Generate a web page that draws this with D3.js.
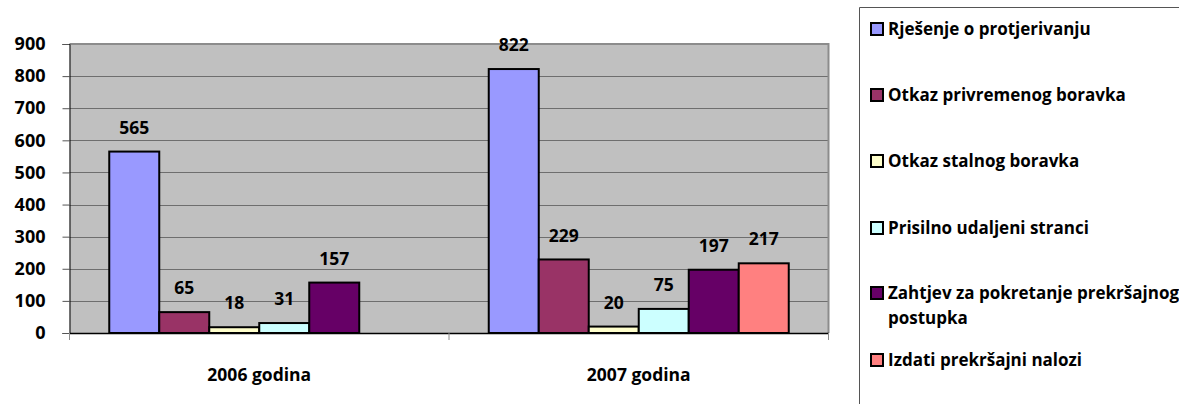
<!DOCTYPE html>
<html>
<head>
<meta charset="utf-8">
<script src="https://cdn.jsdelivr.net/npm/d3@7"></script>
<style>
  html, body { margin: 0; padding: 0; background: #fff; }
  svg { display: block; }
  text { font-family: "Open Sans", Lato, sans-serif; font-weight: bold; fill: #000; }
</style>
</head>
<body>
<svg id="chart" width="1179" height="404"></svg>
<script>
// Data
const categories = ["2006 godina", "2007 godina"];
const seriesNames = [
  "Rješenje o protjerivanju",
  "Otkaz privremenog boravka",
  "Otkaz stalnog boravka",
  "Prisilno udaljeni stranci",
  "Zahtjev za pokretanje prekršajnog postupka",
  "Izdati prekršajni nalozi"
];
const values2006 = [565, 65, 18, 31, 157, null];
const values2007 = [822, 229, 20, 75, 197, 217];
const seriesColors = ["#9999FF", "#993366", "#FFFFCC", "#CCFFFF", "#660066", "#FF8080"];
const yTicks = [0, 100, 200, 300, 400, 500, 600, 700, 800, 900];

const valuesByCategory = [values2006, values2007];

const svg = d3.select("#chart");
const plot = { left: 69.5, right: 828.5, top: 44, bottom: 333 };
const FONT = "'Open Sans', Lato, sans-serif";

const x0 = d3.scaleBand().domain(categories).range([plot.left, plot.right]).paddingInner(0).paddingOuter(0);
const x1 = d3.scaleBand().domain(d3.range(seriesNames.length))
  .range([0, x0.bandwidth()]).paddingOuter(0.795).paddingInner(0);
const y = d3.scaleLinear().domain([0, 900]).range([plot.bottom, plot.top]);

// Plot background
svg.append("rect")
  .attr("x", plot.left).attr("y", plot.top)
  .attr("width", plot.right - plot.left).attr("height", plot.bottom - plot.top)
  .attr("fill", "#C0C0C0");

// Gridlines
svg.append("g").selectAll("line").data(yTicks.filter(t => t > 0 && t < 900)).join("line")
  .attr("x1", plot.left).attr("x2", plot.right)
  .attr("y1", d => Math.round(y(d)) + 0.5).attr("y2", d => Math.round(y(d)) + 0.5)
  .attr("stroke", "#6e6e6e").attr("stroke-width", 1);

// Plot border (top and right)
svg.append("path")
  .attr("d", `M${plot.left},${plot.top} H${plot.right} V${plot.bottom}`)
  .attr("fill", "none").attr("stroke", "#8c8c8c").attr("stroke-width", 2);

// Bars
const groups = svg.append("g").selectAll("g").data(categories).join("g")
  .attr("transform", d => `translate(${x0(d)},0)`);

groups.each(function(cat, ci) {
  const g = d3.select(this);
  const vals = valuesByCategory[ci].map((v, i) => ({ v, i })).filter(d => d.v !== null);
  g.selectAll("rect").data(vals).join("rect")
    .attr("x", d => x1(d.i))
    .attr("y", d => y(d.v))
    .attr("width", x1.bandwidth())
    .attr("height", d => y(0) - y(d.v))
    .attr("fill", d => seriesColors[d.i])
    .attr("stroke", "#000").attr("stroke-width", 2);
  g.selectAll("text.val").data(vals).join("text")
    .attr("class", "val")
    .attr("x", d => x1(d.i) + x1.bandwidth() / 2)
    .attr("y", d => y(d.v) - 24)
    .attr("dy", "0.35em")
    .attr("text-anchor", "middle")
    .attr("font-size", 17.5)
    .text(d => d.v);
});

// Y axis
const yAxis = d3.axisLeft(y).tickValues(yTicks).tickSize(7).tickPadding(17);
const yg = svg.append("g").attr("transform", `translate(${plot.left},0)`).call(yAxis);
yg.select(".domain").attr("stroke", "#000");
yg.selectAll(".tick line").attr("stroke", "#555");
yg.selectAll(".tick text").attr("font-size", 18).attr("font-family", FONT).attr("font-weight", "bold").attr("fill", "#000");

// X axis
const xAxis = d3.axisBottom(x0).tickSize(0).tickPadding(0);
const xg = svg.append("g").attr("transform", `translate(0,${plot.bottom})`).call(xAxis);
xg.select(".domain").attr("stroke", "#000").attr("stroke-width", 1.5);
xg.selectAll(".tick text").attr("font-size", 17.5).attr("font-family", FONT)
  .attr("font-weight", "bold").attr("fill", "#000").attr("y", 42).attr("dy", "0.35em");
// Category divider ticks
svg.append("g").selectAll("line").data([plot.left, x0(categories[1]), plot.right]).join("line")
  .attr("x1", d => d).attr("x2", d => d)
  .attr("y1", plot.bottom).attr("y2", plot.bottom + 7)
  .attr("stroke", "#8c8c8c").attr("stroke-width", 1);

// Legend
const legend = svg.append("g");
legend.append("path")
  .attr("d", `M1180,7.5 H859.5 V405`)
  .attr("fill", "none").attr("stroke", "#555").attr("stroke-width", 1);

const legendRows = [29, 95, 161, 228, 293, 360];
seriesNames.forEach((name, i) => {
  const cy = legendRows[i];
  legend.append("rect")
    .attr("x", 871).attr("y", cy - 6).attr("width", 12).attr("height", 12)
    .attr("fill", seriesColors[i]).attr("stroke", "#000").attr("stroke-width", 2);
  const t = legend.append("text").attr("x", 888).attr("y", cy).attr("dy", "0.35em").attr("font-size", 17);
  if (i === 4) {
    t.append("tspan").attr("x", 888).text("Zahtjev za pokretanje prekršajnog");
    t.append("tspan").attr("x", 888).attr("dy", 25).text("postupka");
  } else {
    t.text(name);
  }
});
</script>
</body>
</html>
